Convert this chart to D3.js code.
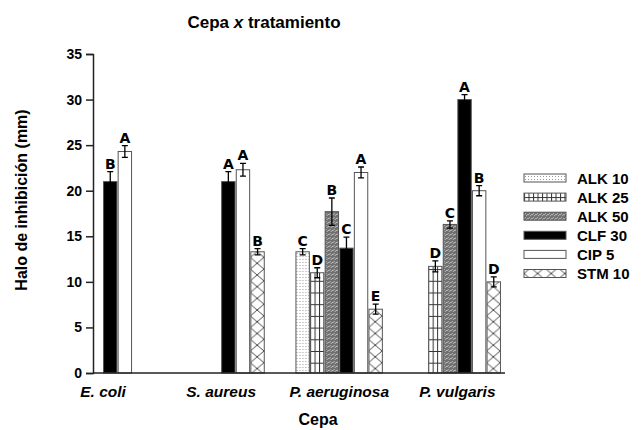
<!DOCTYPE html>
<html>
<head>
<meta charset="utf-8">
<script src="https://cdn.jsdelivr.net/npm/d3@7"></script>
<style>
  body { margin: 0; background: #fff; }
  text { font-family: "Liberation Sans", Arial, sans-serif; font-weight: bold; fill: #000; }
</style>
</head>
<body>
<div class="render"></div>
<script>
var cepas = ["E. coli", "S. aureus", "P. aeruginosa", "P. vulgaris"];
var tratamientos = ["ALK 10", "ALK 25", "ALK 50", "CLF 30", "CIP 5", "STM 10"];

// mean halo (mm) per cepa, null = not tested
var alk10 = [null, null, 13.3, null];
var alk25 = [null, null, 11.0, 11.7];
var alk50 = [null, null, 17.7, 16.3];
var clf30 = [21.0, 21.0, 13.7, 30.0];
var cip5  = [24.3, 22.3, 22.0, 20.0];
var stm10 = [null, 13.3, 7.0, 10.0];

// error (+/-)
var errAlk10 = [null, null, 0.35, null];
var errAlk25 = [null, null, 0.55, 0.6];
var errAlk50 = [null, null, 1.5, 0.4];
var errClf30 = [1.1, 1.1, 1.2, 0.55];
var errCip5  = [0.65, 0.7, 0.6, 0.55];
var errStm10 = [null, 0.35, 0.55, 0.55];

// letters of significance
var letAlk10 = [null, null, "C", null];
var letAlk25 = [null, null, "D", "D"];
var letAlk50 = [null, null, "B", "C"];
var letClf30 = ["B", "A", "C", "A"];
var letCip5  = ["A", "A", "A", "B"];
var letStm10 = [null, "B", "E", "D"];

var yTicks = [0, 5, 10, 15, 20, 25, 30, 35];

var values = [alk10, alk25, alk50, clf30, cip5, stm10];
var errors = [errAlk10, errAlk25, errAlk50, errClf30, errCip5, errStm10];
var letters = [letAlk10, letAlk25, letAlk50, letClf30, letCip5, letStm10];
var fills = ["url(#pAlk10)", "url(#pAlk25)", "url(#pAlk50)", "#000", "#fff", "url(#pStm10)"];

var width = 642, height = 430;
var svg = d3.select(".render").append("svg")
    .attr("width", width).attr("height", height);

// patterns
var defs = svg.append("defs");
var p1 = defs.append("pattern").attr("id", "pAlk10").attr("patternUnits", "userSpaceOnUse")
    .attr("width", 3).attr("height", 3);
p1.append("rect").attr("width", 3).attr("height", 3).attr("fill", "#fff");
p1.append("rect").attr("x", 1).attr("y", 1).attr("width", 1).attr("height", 1).attr("fill", "#999");

var p2 = defs.append("pattern").attr("id", "pAlk25").attr("patternUnits", "userSpaceOnUse")
    .attr("width", 4.5).attr("height", 11.7);
p2.append("rect").attr("width", 4.5).attr("height", 11.7).attr("fill", "#fff");
p2.append("path").attr("d", "M0.5,0V11.7M0,0.5H4.5").attr("stroke", "#333").attr("stroke-width", 1);

var p3 = defs.append("pattern").attr("id", "pAlk50").attr("patternUnits", "userSpaceOnUse")
    .attr("width", 4).attr("height", 4);
p3.append("rect").attr("width", 4).attr("height", 4).attr("fill", "#707070");
p3.append("path").attr("d", "M0,3L2,1M2,4L4,2").attr("stroke", "#d0d0d0").attr("stroke-width", 0.8);

var p6 = defs.append("pattern").attr("id", "pStm10").attr("patternUnits", "userSpaceOnUse")
    .attr("width", 13.6).attr("height", 11.7);
p6.append("rect").attr("width", 13.6).attr("height", 11.7).attr("fill", "#fff");
p6.append("path").attr("d", "M0,0L13.6,11.7M13.6,0L0,11.7").attr("stroke", "#333").attr("stroke-width", 0.9);

// scales
var x0 = d3.scaleBand().domain(cepas).range([44, 516.4]);
var x1 = d3.scaleBand().domain(tratamientos).range([0, 87.6]);
var y = d3.scaleLinear().domain([0, 35]).range([373, 54]);

function barX(ci, si) {
    return x0(cepas[ci]) + x0.bandwidth() / 2 - 43.8 + x1(tratamientos[si]);
}

// bars
var bars = [];
values.forEach(function(arr, si) {
    arr.forEach(function(v, ci) {
        if (v != null) bars.push({ si: si, ci: ci, v: v, e: errors[si][ci], l: letters[si][ci] });
    });
});

var gBar = svg.selectAll("g.bar").data(bars).enter().append("g")
    .attr("class", "bar")
    .attr("transform", function(d) { return "translate(" + barX(d.ci, d.si) + ",0)"; });

gBar.append("rect")
    .attr("x", 0.5)
    .attr("y", function(d) { return y(d.v); })
    .attr("width", x1.bandwidth() - 1.2)
    .attr("height", function(d) { return y(0) - y(d.v); })
    .attr("fill", function(d) { return fills[d.si]; })
    .attr("stroke", "#555").attr("stroke-width", 1);

var cx = (x1.bandwidth() - 0.2) / 2;
gBar.append("path")
    .attr("d", function(d) {
        var t = y(d.v + d.e), b = y(d.v - d.e);
        return "M" + cx + "," + t + "V" + b + "M" + (cx - 3) + "," + t + "H" + (cx + 3) + "M" + (cx - 3) + "," + b + "H" + (cx + 3);
    })
    .attr("stroke", "#000").attr("stroke-width", 1.3).attr("fill", "none");

gBar.append("text")
    .attr("x", cx)
    .attr("y", function(d) { return y(d.v + d.e) - 3; })
    .attr("text-anchor", "middle")
    .style("font-family", "'DejaVu Sans', sans-serif")
    .style("font-size", "14px")
    .text(function(d) { return d.l; });

// y axis
var yAxis = svg.append("g")
    .attr("transform", "translate(93,0)")
    .call(d3.axisLeft(y).tickValues(yTicks).tickSize(7).tickPadding(4));
yAxis.select(".domain").attr("stroke", "#222").attr("stroke-width", 1.5);
yAxis.selectAll(".tick line").attr("stroke", "#222").attr("stroke-width", 1.5);
yAxis.selectAll(".tick text").style("font-size", "14px").attr("font-weight", "bold")
    .attr("font-family", "Liberation Sans, Arial, sans-serif");

// x axis line
svg.append("line")
    .attr("x1", 93).attr("x2", 505).attr("y1", y(0)).attr("y2", y(0))
    .attr("stroke", "#222").attr("stroke-width", 1.5);

svg.selectAll("text.xlab").data(cepas).enter().append("text")
    .attr("class", "xlab")
    .attr("x", function(d) { return x0(d) + x0.bandwidth() / 2; })
    .attr("y", 397)
    .attr("text-anchor", "middle")
    .style("font-size", "15.5px").style("font-style", "italic")
    .text(function(d) { return d; });

// titles
svg.append("text").attr("x", 264).attr("y", 28).attr("text-anchor", "middle")
    .style("font-size", "17px")
    .call(function(t) {
        t.append("tspan").text("Cepa ");
        t.append("tspan").style("font-style", "italic").text("x");
        t.append("tspan").text(" tratamiento");
    });

svg.append("text").attr("x", 318).attr("y", 425).attr("text-anchor", "middle")
    .style("font-size", "16px").text("Cepa");

svg.append("text")
    .attr("transform", "translate(27,200) rotate(-90)")
    .attr("text-anchor", "middle")
    .style("font-size", "16px")
    .text("Halo de inhibición (mm)");

// legend
var leg = svg.selectAll("g.leg").data(tratamientos).enter().append("g")
    .attr("class", "leg")
    .attr("transform", function(d, i) { return "translate(524," + (178 + i * 19.1) + ")"; });
leg.append("rect")
    .attr("x", 0).attr("y", -4).attr("width", 42).attr("height", 8)
    .attr("fill", function(d, i) { return fills[i]; })
    .attr("stroke", "#555").attr("stroke-width", 1);
leg.append("text")
    .attr("x", 53).attr("y", 5.5)
    .style("font-size", "15px")
    .text(function(d) { return d; });
</script>
</body>
</html>
